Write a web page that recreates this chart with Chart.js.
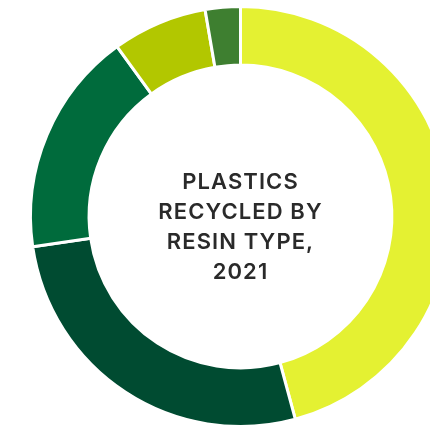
<!DOCTYPE html>
<html>
<head>
<meta charset="utf-8">
<script src="https://cdn.jsdelivr.net/npm/chart.js@4"></script>
<style>
  html, body { margin: 0; padding: 0; background: #fff; overflow: hidden; }
  #wrap { position: absolute; left: 0; top: 0; width: 481px; height: 433px; }
  #title {
    position: absolute; left: 120px; top: 166px; width: 241px;
    text-align: center; font-family: Inter, sans-serif; font-weight: 600;
    font-size: 22px; line-height: 30px; color: #2a2a2a; letter-spacing: 1.1px;
  }
</style>
</head>
<body>
<div id="wrap"><canvas id="resin"></canvas></div>
<div id="title">PLASTICS<br>RECYCLED BY<br>RESIN TYPE,<br>2021</div>
<script>
const resinTypes = ['PET', 'HDPE', 'PP', 'LDPE/LLDPE', 'Other'];
const recycledShare = [45.8, 26.9, 17.3, 7.3, 2.7];
const resinColors = ['#e4f132', '#004b31', '#006b3c', '#b2c700', '#3e7f30'];

const ctx = document.getElementById('resin');

new Chart(ctx, {
  type: 'doughnut',
  data: {
    labels: resinTypes,
    datasets: [{
      label: 'Share recycled (%)',
      data: recycledShare,
      backgroundColor: resinColors,
      borderColor: '#ffffff',
      borderWidth: 3
    }]
  },
  options: {
    responsive: true,
    maintainAspectRatio: false,
    animation: false,
    radius: 210,
    cutout: 155,
    layout: { padding: 0 },
    plugins: {
      legend: { display: false },
      tooltip: { enabled: false }
    }
  }
});
</script>
</body>
</html>
